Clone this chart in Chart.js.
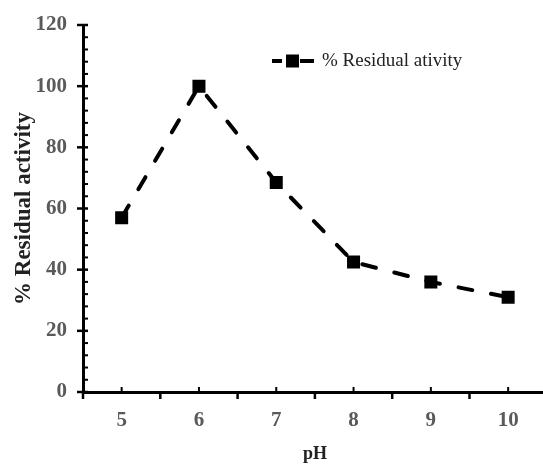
<!DOCTYPE html>
<html><head>
<meta charset="utf-8">
<script src="https://cdn.jsdelivr.net/npm/chart.js@4.4.1/dist/chart.umd.min.js"></script>
<style>html,body{margin:0;padding:0;overflow:hidden;background:#fff}#wrap{position:absolute;left:0;top:0;width:556px;height:465px}</style>
</head><body><div id="wrap"><canvas id="c" width="556" height="465"></canvas></div>
<script>
const categories = [5, 6, 7, 8, 9, 10];
const residualActivity = [57, 100, 68.5, 42.5, 36, 31];
const yTickValues = [0, 20, 40, 60, 80, 100, 120];
const seriesLabel = '% Residual ativity';
const xTitle = 'pH';
const yTitle = '% Residual activity';

const SERIF = '"Liberation Serif", "Times New Roman", serif';

const tickPlugin = {
  id: 'ticksAndLegend',
  afterDraw(chart) {
    const ctx = chart.ctx;
    const xs = chart.scales.x, ys = chart.scales.y;
    const ax = chart.chartArea.left, ay = chart.chartArea.bottom;
    ctx.save();
    ctx.strokeStyle = '#000';
    for (let v = 0; v <= 120; v += 4) {
      const py = ys.getPixelForValue(v);
      ctx.beginPath();
      if (v % 20 === 0) { ctx.lineWidth = 2.5; ctx.moveTo(ax - 6, py); ctx.lineTo(ax + 5, py); }
      else { ctx.lineWidth = 2; ctx.moveTo(ax, py); ctx.lineTo(ax + 5, py); }
      ctx.stroke();
    }
    for (let i = 0; i <= categories.length; i++) {
      const px = xs.getPixelForValue(categories[0] - 0.5 + i);
      ctx.lineWidth = 2.5;
      ctx.beginPath(); ctx.moveTo(px, ay); ctx.lineTo(px, ay + 7); ctx.stroke();
    }
    categories.forEach(c => {
      const px = xs.getPixelForValue(c);
      ctx.lineWidth = 2;
      ctx.beginPath(); ctx.moveTo(px, ay); ctx.lineTo(px, ay - 5); ctx.stroke();
    });
    const ly = 61;
    ctx.lineWidth = 4;
    ctx.setLineDash([]);
    ctx.beginPath(); ctx.moveTo(272, ly); ctx.lineTo(282, ly); ctx.stroke();
    ctx.beginPath(); ctx.moveTo(300, ly); ctx.lineTo(314, ly); ctx.stroke();
    ctx.fillStyle = '#000';
    ctx.fillRect(286, ly - 6.5, 13, 13);
    ctx.fillStyle = '#222';
    ctx.font = '19px ' + SERIF;
    ctx.textBaseline = 'middle';
    ctx.textAlign = 'left';
    ctx.fillText(chart.data.datasets[0].label, 322, ly);
    ctx.restore();
  }
};

new Chart(document.getElementById('c'), {
  type: 'line',
  data: {
    datasets: [{
      label: seriesLabel,
      data: categories.map((c, i) => ({ x: c, y: residualActivity[i] })),
      borderColor: '#000',
      backgroundColor: '#000',
      borderWidth: 4,
      borderDash: [14, 19],
      borderCapStyle: 'round',
      pointStyle: 'rect',
      pointRadius: 9.2,
      pointHoverRadius: 9.2,
      pointBorderWidth: 0,
      tension: 0,
      fill: false
    }]
  },
  plugins: [tickPlugin],
  options: {
    responsive: false,
    animation: false,
    events: [],
    layout: { padding: { top: 25, right: 7, left: 0, bottom: 0 } },
    plugins: { legend: { display: false }, tooltip: { enabled: false } },
    scales: {
      x: {
        type: 'linear', min: 4.5, max: 10.5,
        afterBuildTicks: s => { s.ticks = categories.map(v => ({ value: v })); },
        afterFit: s => { s.height = 73; },
        grid: { display: false },
        border: { display: true, color: '#000', width: 3 },
        ticks: { color: '#5a5a5a', font: { family: SERIF, size: 21, weight: 'bold' }, padding: 8, maxRotation: 0, autoSkip: false, callback: v => String(v) },
        title: { display: true, text: xTitle, color: '#222', font: { family: SERIF, size: 18, weight: 'bold' }, padding: { top: 6, bottom: 0 } }
      },
      y: {
        min: 0, max: 120,
        afterBuildTicks: s => { s.ticks = yTickValues.map(v => ({ value: v })); },
        afterFit: s => { s.width = 83; },
        grid: { display: false },
        border: { display: true, color: '#000', width: 3 },
        ticks: { color: '#5a5a5a', font: { family: SERIF, size: 21, weight: 'bold' }, padding: 8, callback: v => String(v) },
        title: { display: true, text: yTitle, color: '#222', font: { family: SERIF, size: 23, weight: 'bold' }, padding: { top: 10, bottom: 0 } }
      }
    }
  }
});
</script>
</body></html>
